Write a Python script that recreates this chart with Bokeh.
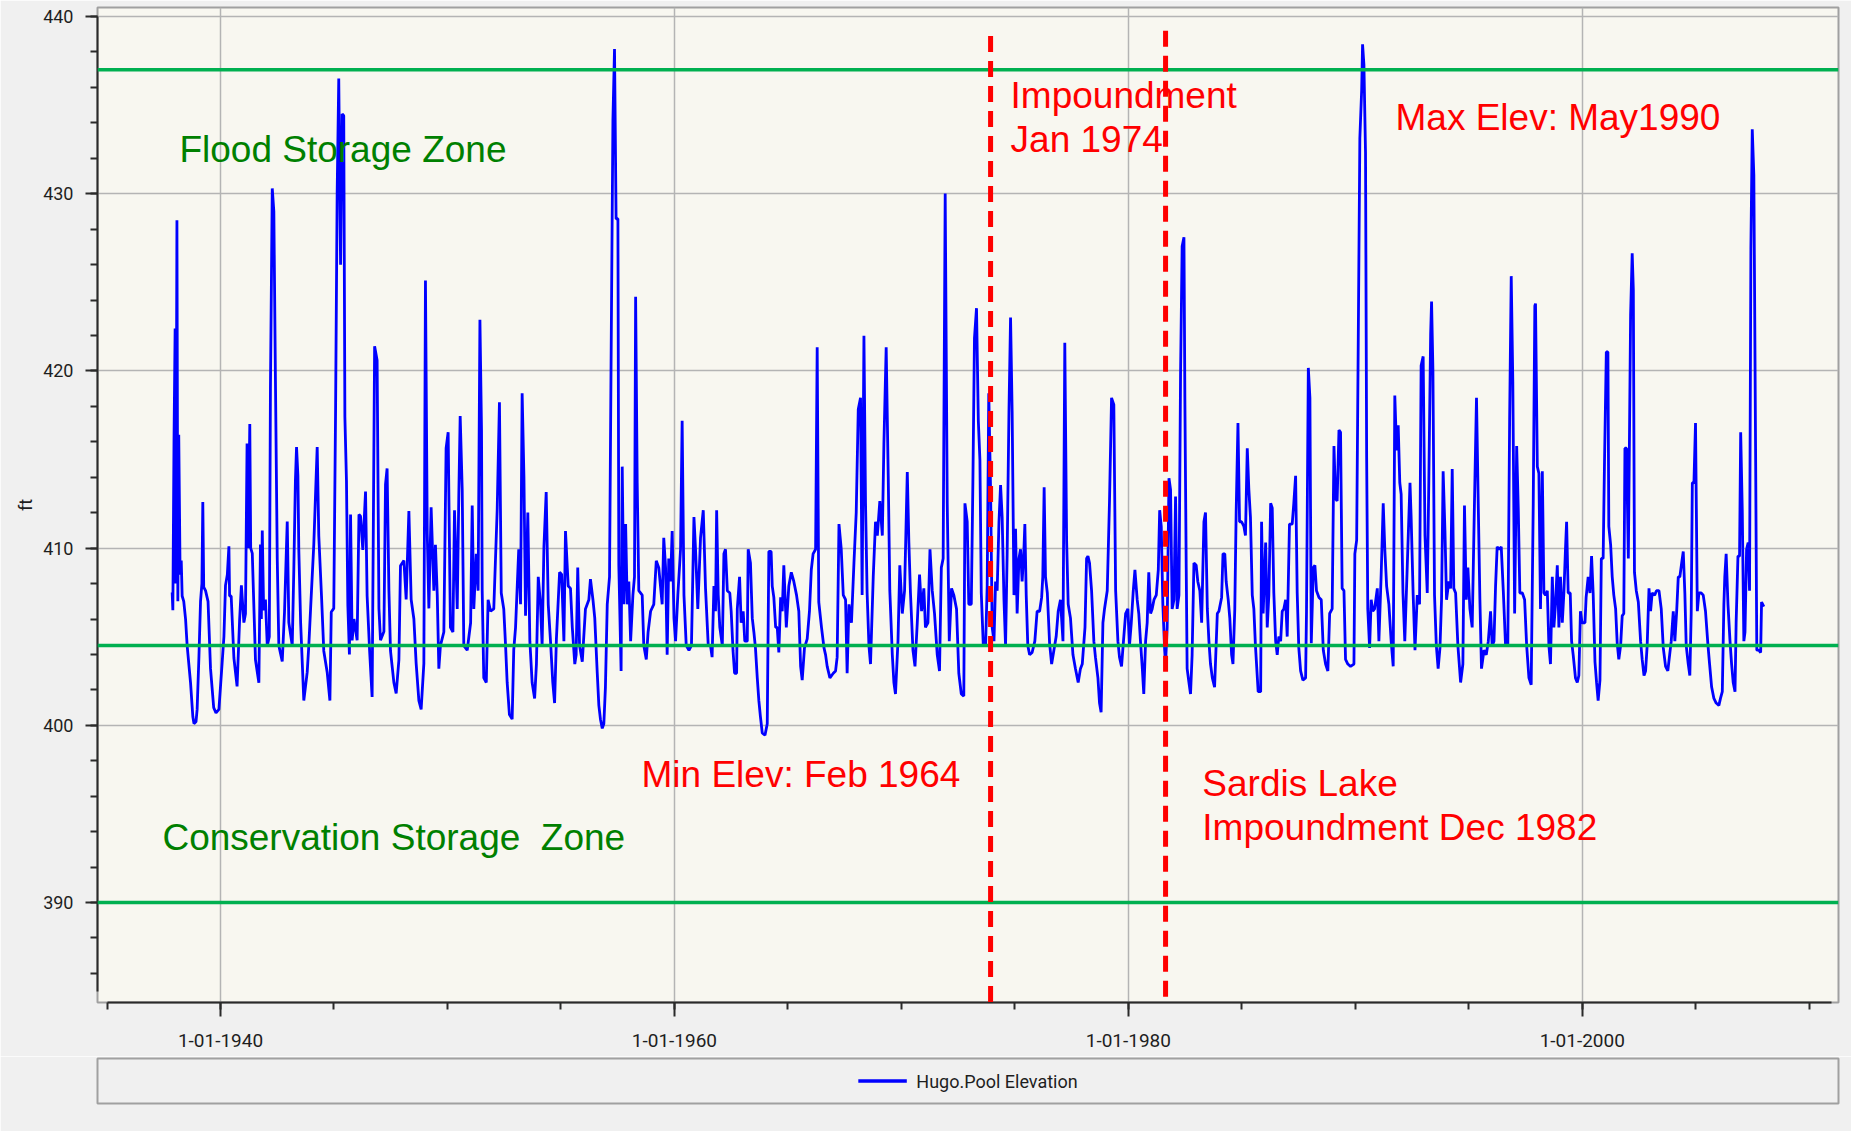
from bokeh.plotting import figure
from bokeh.models import Range1d, FixedTicker, Span, Label, Legend, LegendItem, ColumnDataSource
from bokeh.layouts import column
from bokeh.embed import file_html
from bokeh.resources import INLINE

# ---- Hugo.Pool Elevation (decimal year, ft) ----
pts_1937_1949 = [
    (1937.87, 407.5), (1937.90, 406.5), (1937.95, 416.0), (1938.00, 422.4), (1938.03, 408.0),
    (1938.08, 428.5), (1938.12, 407.0), (1938.16, 416.4), (1938.22, 408.5), (1938.27, 409.3),
    (1938.31, 407.3), (1938.38, 407.0), (1938.46, 406.0), (1938.53, 404.5), (1938.68, 402.4),
    (1938.78, 400.5), (1938.83, 400.1), (1938.92, 400.2), (1938.97, 400.9), (1939.05, 403.9),
    (1939.12, 407.0), (1939.18, 408.0), (1939.22, 412.6), (1939.26, 407.8), (1939.34, 407.6),
    (1939.45, 407.0), (1939.56, 403.2), (1939.70, 401.0), (1939.80, 400.7), (1939.93, 400.9),
    (1940.07, 403.5), (1940.15, 405.0), (1940.22, 407.9), (1940.30, 408.5), (1940.37, 410.1),
    (1940.40, 407.3), (1940.47, 407.3), (1940.59, 403.8), (1940.73, 402.2), (1940.84, 405.9),
    (1940.92, 407.9), (1941.03, 405.8), (1941.10, 406.3), (1941.17, 415.9), (1941.22, 410.0),
    (1941.29, 417.0), (1941.33, 410.0), (1941.40, 409.7), (1941.54, 403.7), (1941.69, 402.4),
    (1941.76, 410.2), (1941.80, 406.0), (1941.84, 411.0), (1941.90, 406.5), (1941.98, 407.1),
    (1942.06, 404.5), (1942.15, 405.0), (1942.20, 419.0), (1942.28, 430.3), (1942.35, 429.0),
    (1942.42, 419.5), (1942.50, 409.4), (1942.57, 404.5), (1942.72, 403.6), (1942.82, 406.4),
    (1942.94, 411.5), (1943.01, 405.8), (1943.16, 404.5), (1943.23, 408.8), (1943.30, 413.8),
    (1943.35, 415.7), (1943.41, 414.1), (1943.45, 409.9), (1943.53, 405.8), (1943.67, 401.4),
    (1943.82, 403.0), (1943.89, 404.5), (1943.97, 406.6), (1944.11, 410.2), (1944.26, 415.7),
    (1944.33, 410.7), (1944.45, 407.3), (1944.55, 404.2), (1944.70, 403.0), (1944.82, 401.4),
    (1944.88, 406.4), (1944.99, 406.6), (1945.07, 417.8), (1945.14, 430.1), (1945.21, 436.5),
    (1945.29, 426.0), (1945.36, 434.5), (1945.43, 434.4), (1945.48, 417.4), (1945.55, 413.8),
    (1945.61, 406.8), (1945.68, 404.0), (1945.73, 411.9), (1945.80, 404.8), (1945.88, 406.0),
    (1946.02, 404.8), (1946.10, 411.9), (1946.17, 411.8), (1946.27, 409.9), (1946.39, 413.2),
    (1946.46, 407.3), (1946.57, 404.2), (1946.68, 401.6), (1946.79, 421.4), (1946.90, 420.6),
    (1946.98, 406.6), (1947.05, 404.8), (1947.20, 405.3), (1947.27, 413.6), (1947.34, 414.5),
    (1947.42, 407.6), (1947.49, 404.2), (1947.64, 402.4), (1947.74, 401.8), (1947.86, 403.7),
    (1947.93, 409.0), (1948.08, 409.3), (1948.18, 407.1), (1948.30, 412.1), (1948.40, 407.1),
    (1948.52, 406.0), (1948.62, 403.5), (1948.74, 401.4), (1948.84, 400.9), (1948.96, 403.5),
    (1949.03, 425.1), (1949.11, 410.8), (1949.18, 406.6), (1949.28, 412.3), (1949.40, 407.6),
]
pts_1949_1961 = [
    (1949.47, 410.19), (1949.55, 407.35), (1949.62, 403.2), (1949.69, 404.5), (1949.84, 405.27),
    (1949.94, 415.64), (1950.03, 416.54), (1950.13, 405.53), (1950.24, 405.27), (1950.31, 412.14),
    (1950.43, 406.57), (1950.50, 413.04), (1950.56, 417.45), (1950.65, 413.3), (1950.72, 404.5),
    (1950.87, 404.24), (1951.02, 405.79), (1951.09, 412.4), (1951.16, 406.57), (1951.27, 409.68),
    (1951.35, 407.6), (1951.43, 422.89), (1951.50, 416.67), (1951.53, 407.6), (1951.60, 402.68),
    (1951.71, 402.42), (1951.79, 407.09), (1951.90, 406.44), (1952.04, 406.57), (1952.19, 412.14),
    (1952.29, 418.23), (1952.37, 407.47), (1952.48, 406.57), (1952.56, 404.5), (1952.63, 402.42),
    (1952.73, 400.61), (1952.85, 400.35), (1952.92, 404.24), (1953.00, 405.53), (1953.14, 409.94),
    (1953.22, 406.83), (1953.29, 418.74), (1953.37, 413.95), (1953.44, 406.18), (1953.54, 412.01),
    (1953.63, 404.75), (1953.73, 402.42), (1953.84, 401.52), (1953.92, 403.46), (1954.00, 408.38),
    (1954.10, 406.83), (1954.17, 404.5), (1954.25, 410.07), (1954.35, 413.17), (1954.44, 406.83),
    (1954.54, 404.75), (1954.64, 402.42), (1954.72, 401.26), (1954.80, 404.88), (1954.94, 408.64),
    (1955.03, 408.51), (1955.13, 404.75), (1955.20, 410.97), (1955.32, 407.86), (1955.42, 407.73),
    (1955.50, 405.53), (1955.61, 403.46), (1955.67, 403.98), (1955.74, 408.9), (1955.82, 404.5),
    (1955.94, 403.59), (1956.08, 406.57), (1956.23, 407.09), (1956.30, 408.25), (1956.41, 407.09),
    (1956.49, 406.05), (1956.60, 402.94), (1956.67, 401.13), (1956.74, 400.35), (1956.82, 399.83),
    (1956.89, 400.09), (1956.96, 402.16), (1957.04, 406.83), (1957.14, 408.38), (1957.21, 420.69),
    (1957.29, 434.16), (1957.36, 438.17), (1957.43, 428.59), (1957.51, 428.59), (1957.55, 409.03),
    (1957.65, 403.07), (1957.70, 414.6), (1957.77, 406.83), (1957.85, 411.36), (1957.92, 406.83),
    (1957.99, 408.12), (1958.07, 404.75), (1958.17, 407.35), (1958.24, 408.38), (1958.29, 424.18),
    (1958.36, 413.69), (1958.43, 407.6), (1958.58, 407.35), (1958.65, 404.5), (1958.76, 403.72),
    (1958.84, 405.27), (1958.95, 406.44), (1959.09, 406.83), (1959.20, 409.29), (1959.31, 408.9),
    (1959.46, 406.83), (1959.53, 410.58), (1959.61, 408.9), (1959.68, 403.98), (1959.75, 409.42),
    (1959.83, 408.12), (1959.90, 410.97), (1959.98, 406.05), (1960.05, 404.75), (1960.15, 407.35),
    (1960.27, 409.94), (1960.34, 417.19), (1960.42, 407.35), (1960.52, 404.5), (1960.64, 404.24),
    (1960.75, 404.5), (1960.86, 411.75), (1960.93, 409.94), (1961.03, 406.57), (1961.15, 410.58),
    (1961.27, 412.14), (1961.37, 407.73), (1961.49, 404.5),
]
pts_1961_1973 = [
    (1961.59, 404.5), (1961.66, 403.85), (1961.74, 407.86), (1961.81, 406.44), (1961.86, 412.14),
    (1961.93, 407.35), (1962.00, 405.53), (1962.11, 404.5), (1962.18, 409.68), (1962.25, 409.94),
    (1962.33, 407.6), (1962.44, 407.47), (1962.50, 406.44), (1962.58, 404.24), (1962.65, 402.94),
    (1962.74, 402.94), (1962.77, 406.57), (1962.87, 408.38), (1962.94, 405.79), (1963.03, 406.44),
    (1963.10, 404.75), (1963.21, 404.75), (1963.25, 409.94), (1963.35, 409.16), (1963.43, 406.05),
    (1963.50, 405.27), (1963.57, 404.37), (1963.65, 402.68), (1963.72, 401.39), (1963.79, 400.48),
    (1963.87, 399.57), (1963.99, 399.44), (1964.09, 400.09), (1964.16, 409.81), (1964.26, 409.81),
    (1964.31, 407.86), (1964.38, 407.22), (1964.46, 405.53), (1964.53, 405.53), (1964.60, 404.11),
    (1964.68, 407.22), (1964.75, 406.44), (1964.82, 409.03), (1964.93, 405.53), (1965.04, 407.86),
    (1965.15, 408.64), (1965.26, 408.12), (1965.38, 407.35), (1965.48, 406.44), (1965.56, 403.33),
    (1965.63, 402.55), (1965.73, 404.37), (1965.85, 404.88), (1965.95, 406.44), (1966.03, 408.77),
    (1966.11, 409.68), (1966.22, 409.94), (1966.29, 421.33), (1966.36, 406.96), (1966.48, 405.53),
    (1966.59, 404.37), (1966.66, 403.98), (1966.73, 403.33), (1966.85, 402.68), (1967.00, 402.94),
    (1967.10, 403.07), (1967.17, 403.85), (1967.25, 411.36), (1967.35, 409.94), (1967.44, 407.35),
    (1967.54, 407.09), (1967.61, 402.94), (1967.69, 406.83), (1967.80, 405.79), (1967.91, 409.16),
    (1968.01, 412.01), (1968.10, 417.84), (1968.20, 418.48), (1968.27, 407.35), (1968.35, 421.98),
    (1968.42, 412.53), (1968.49, 407.47), (1968.57, 404.5), (1968.64, 403.46), (1968.76, 408.38),
    (1968.86, 411.49), (1968.94, 410.71), (1969.05, 412.66), (1969.16, 410.71), (1969.23, 415.89),
    (1969.33, 421.33), (1969.42, 414.08), (1969.49, 407.6), (1969.60, 403.98), (1969.67, 402.42),
    (1969.74, 401.77), (1969.85, 404.75), (1969.93, 409.03), (1970.04, 406.31), (1970.14, 407.6),
    (1970.26, 414.29), (1970.33, 410.32), (1970.40, 407.47), (1970.51, 404.24), (1970.60, 403.33),
    (1970.70, 405.79), (1970.80, 408.51), (1970.89, 406.44), (1970.99, 407.73), (1971.06, 405.53),
    (1971.17, 405.79), (1971.26, 409.94), (1971.36, 407.6), (1971.46, 406.31), (1971.58, 403.98),
    (1971.68, 403.07), (1971.76, 408.9), (1971.84, 409.42), (1971.93, 430.01), (1972.02, 412.53),
    (1972.11, 404.75), (1972.21, 407.73), (1972.31, 407.35), (1972.43, 406.57), (1972.53, 402.94),
    (1972.64, 401.77), (1972.75, 401.65), (1972.80, 412.53), (1972.90, 411.49), (1972.97, 406.83),
    (1973.08, 406.83), (1973.15, 413.69), (1973.22, 421.85), (1973.31, 423.54), (1973.39, 417.19),
    (1973.46, 414.99), (1973.52, 407.47), (1973.61, 404.5),
]
pts_1973_1985 = [
    (1973.71, 404.5), (1973.78, 407.86), (1973.85, 418.74), (1973.93, 413.3), (1974.00, 405.53),
    (1974.08, 404.75), (1974.15, 408.12), (1974.22, 407.6), (1974.30, 411.49), (1974.37, 413.56),
    (1974.44, 411.75), (1974.52, 407.09), (1974.59, 404.5), (1974.66, 409.68), (1974.74, 417.71),
    (1974.81, 423.02), (1974.88, 417.71), (1974.96, 407.35), (1975.03, 411.1), (1975.10, 406.31),
    (1975.18, 409.42), (1975.25, 409.94), (1975.32, 408.12), (1975.40, 409.94), (1975.44, 411.36),
    (1975.50, 407.35), (1975.57, 404.5), (1975.65, 403.98), (1975.76, 404.11), (1975.88, 404.75),
    (1975.98, 406.44), (1976.09, 406.44), (1976.18, 407.22), (1976.23, 408.38), (1976.29, 413.43),
    (1976.35, 408.38), (1976.43, 407.47), (1976.53, 404.63), (1976.62, 403.46), (1976.72, 404.24),
    (1976.82, 405.01), (1976.91, 406.44), (1977.01, 407.09), (1977.12, 404.75), (1977.20, 421.59),
    (1977.28, 410.45), (1977.35, 406.83), (1977.45, 406.05), (1977.56, 403.98), (1977.67, 403.2),
    (1977.79, 402.42), (1977.89, 403.2), (1977.97, 403.46), (1978.09, 405.53), (1978.16, 409.42),
    (1978.22, 409.55), (1978.29, 409.16), (1978.38, 407.6), (1978.48, 404.75), (1978.55, 403.85),
    (1978.66, 402.68), (1978.73, 401.26), (1978.80, 400.74), (1978.88, 405.79), (1978.95, 406.57),
    (1979.07, 407.6), (1979.17, 412.66), (1979.26, 418.48), (1979.36, 418.1), (1979.44, 407.6),
    (1979.54, 404.75), (1979.61, 403.85), (1979.70, 403.33), (1979.77, 404.5), (1979.88, 406.31),
    (1979.98, 406.57), (1980.05, 404.5), (1980.13, 405.79), (1980.21, 407.47), (1980.29, 408.77),
    (1980.39, 407.09), (1980.46, 406.31), (1980.54, 404.63), (1980.61, 403.33), (1980.68, 401.77),
    (1980.76, 404.75), (1980.83, 405.79), (1980.90, 408.64), (1980.98, 406.31), (1981.05, 406.57),
    (1981.13, 407.09), (1981.23, 407.35), (1981.32, 408.77), (1981.38, 412.14), (1981.45, 411.23),
    (1981.52, 406.83), (1981.60, 404.24), (1981.64, 403.46), (1981.71, 405.53), (1981.79, 413.95),
    (1981.86, 413.3), (1981.93, 406.57), (1982.01, 407.09), (1982.08, 412.92), (1982.15, 406.57),
    (1982.23, 407.35), (1982.30, 419.78), (1982.37, 427.03), (1982.45, 427.55), (1982.49, 418.48),
    (1982.55, 408.9), (1982.59, 403.2), (1982.67, 402.42), (1982.74, 401.77), (1982.81, 403.98),
    (1982.89, 409.16), (1982.99, 409.03), (1983.06, 408.12), (1983.15, 407.6), (1983.23, 405.79),
    (1983.33, 411.49), (1983.40, 412.01), (1983.48, 406.57), (1983.55, 404.75), (1983.62, 403.46),
    (1983.70, 402.68), (1983.80, 402.16), (1983.92, 406.31), (1983.99, 406.44), (1984.11, 407.22),
    (1984.17, 409.68), (1984.25, 409.68), (1984.31, 408.12), (1984.40, 407.09), (1984.47, 406.05),
    (1984.55, 403.98), (1984.61, 403.46), (1984.69, 406.57), (1984.75, 412.01), (1984.83, 417.06),
    (1984.90, 411.49), (1984.99, 411.49), (1985.09, 411.23), (1985.16, 410.71), (1985.24, 415.64),
    (1985.31, 413.3), (1985.38, 411.75), (1985.46, 407.35), (1985.53, 406.57), (1985.60, 404.5),
    (1985.72, 401.9),
]
pts_1985_1997 = [
    (1985.83, 401.9), (1985.87, 411.49), (1985.94, 406.31), (1986.05, 410.32), (1986.12, 405.53),
    (1986.19, 407.35), (1986.27, 412.53), (1986.34, 412.27), (1986.41, 407.47), (1986.49, 404.75),
    (1986.56, 403.98), (1986.63, 405.01), (1986.71, 404.75), (1986.78, 406.44), (1986.85, 406.57),
    (1986.93, 407.09), (1987.00, 405.01), (1987.10, 411.36), (1987.22, 411.36), (1987.29, 412.53),
    (1987.37, 414.08), (1987.44, 407.47), (1987.51, 404.37), (1987.59, 403.07), (1987.69, 402.55),
    (1987.81, 402.68), (1987.85, 406.44), (1987.93, 420.17), (1988.00, 418.48), (1988.06, 404.63),
    (1988.15, 408.9), (1988.22, 409.03), (1988.29, 407.6), (1988.40, 407.22), (1988.50, 407.09),
    (1988.59, 404.24), (1988.69, 403.46), (1988.79, 403.07), (1988.87, 406.31), (1988.98, 406.57),
    (1989.06, 415.76), (1989.13, 412.79), (1989.20, 412.66), (1989.28, 416.67), (1989.35, 416.54),
    (1989.42, 407.73), (1989.50, 407.6), (1989.57, 403.72), (1989.67, 403.46), (1989.79, 403.33),
    (1989.94, 403.46), (1989.98, 409.68), (1990.06, 410.45), (1990.13, 421.72), (1990.20, 433.12),
    (1990.28, 435.84), (1990.32, 438.43), (1990.38, 437.27), (1990.45, 432.34), (1990.50, 415.12),
    (1990.55, 406.57), (1990.63, 404.37), (1990.70, 407.09), (1990.77, 406.44), (1990.85, 406.57),
    (1990.97, 407.73), (1991.04, 404.75), (1991.14, 408.51), (1991.23, 412.53), (1991.30, 409.94),
    (1991.38, 407.86), (1991.48, 406.83), (1991.58, 404.75), (1991.67, 403.33), (1991.74, 418.61),
    (1991.82, 415.51), (1991.89, 416.93), (1991.96, 413.69), (1992.02, 413.04), (1992.10, 407.47),
    (1992.18, 404.75), (1992.29, 409.03), (1992.41, 413.69), (1992.46, 411.75), (1992.55, 407.35),
    (1992.63, 404.24), (1992.73, 407.35), (1992.83, 406.83), (1992.90, 420.3), (1992.99, 420.82),
    (1993.07, 410.71), (1993.17, 407.47), (1993.24, 413.82), (1993.32, 422.11), (1993.36, 423.92),
    (1993.42, 420.04), (1993.49, 407.35), (1993.57, 404.5), (1993.65, 403.2), (1993.73, 404.37),
    (1993.80, 407.09), (1993.87, 414.34), (1993.95, 410.97), (1994.02, 407.09), (1994.12, 408.12),
    (1994.20, 407.73), (1994.27, 414.47), (1994.34, 407.73), (1994.42, 407.47), (1994.52, 404.5),
    (1994.64, 402.42), (1994.74, 403.46), (1994.81, 412.4), (1994.89, 407.09), (1994.96, 408.9),
    (1995.05, 406.57), (1995.15, 405.53), (1995.25, 412.53), (1995.34, 418.48), (1995.42, 412.27),
    (1995.49, 407.09), (1995.56, 403.2), (1995.67, 404.24), (1995.77, 403.98), (1995.86, 404.75),
    (1995.96, 406.44), (1996.03, 404.5), (1996.11, 404.75), (1996.18, 407.86), (1996.25, 410.07),
    (1996.36, 409.94), (1996.43, 410.07), (1996.52, 407.6), (1996.62, 404.5), (1996.72, 404.5),
    (1996.80, 417.32), (1996.87, 425.35), (1996.94, 419.39), (1997.02, 406.31), (1997.11, 415.76),
    (1997.18, 412.27), (1997.25, 407.47), (1997.36, 407.47), (1997.46, 407.09), (1997.55, 404.5),
    (1997.65, 402.68), (1997.75, 402.29), (1997.84, 412.53), (1997.91, 423.67),
]
pts_1998_2008 = [
    (1997.94, 423.8), (1998.02, 414.6), (1998.09, 414.21), (1998.16, 406.57), (1998.24, 414.34),
    (1998.31, 407.47), (1998.38, 407.35), (1998.46, 407.6), (1998.53, 404.5), (1998.60, 403.46),
    (1998.68, 408.38), (1998.75, 405.53), (1998.82, 406.83), (1998.90, 409.03), (1998.97, 405.53),
    (1999.04, 408.38), (1999.12, 405.79), (1999.19, 407.47), (1999.26, 409.94), (1999.31, 411.49),
    (1999.38, 407.47), (1999.47, 407.47), (1999.53, 404.75), (1999.60, 403.98), (1999.70, 402.68),
    (1999.78, 402.42), (1999.85, 402.81), (1999.92, 406.44), (1999.99, 405.79), (2000.12, 405.79),
    (2000.17, 407.22), (2000.26, 408.38), (2000.34, 407.47), (2000.41, 409.55), (2000.48, 407.47),
    (2000.56, 403.59), (2000.63, 402.42), (2000.70, 401.39), (2000.78, 402.55), (2000.84, 409.42),
    (2000.92, 409.42), (2000.98, 414.86), (2001.06, 421.07), (2001.13, 421.07), (2001.17, 411.23),
    (2001.25, 410.19), (2001.32, 408.38), (2001.39, 407.35), (2001.47, 406.57), (2001.54, 404.63),
    (2001.61, 403.72), (2001.69, 404.5), (2001.76, 406.18), (2001.83, 406.31), (2001.88, 415.64),
    (2001.95, 415.64), (2002.03, 409.42), (2002.13, 423.15), (2002.20, 426.64), (2002.25, 424.57),
    (2002.30, 408.64), (2002.38, 407.6), (2002.47, 406.96), (2002.57, 404.75), (2002.64, 403.72),
    (2002.72, 402.81), (2002.79, 403.07), (2002.86, 404.5), (2002.94, 407.73), (2003.01, 406.44),
    (2003.08, 407.47), (2003.19, 407.35), (2003.27, 407.6), (2003.38, 407.6), (2003.48, 406.57),
    (2003.57, 404.37), (2003.67, 403.33), (2003.77, 403.07), (2003.85, 403.98), (2003.92, 404.75),
    (2004.01, 406.44), (2004.08, 404.75), (2004.16, 406.44), (2004.23, 408.38), (2004.30, 408.38),
    (2004.38, 409.16), (2004.45, 409.81), (2004.52, 407.47), (2004.58, 404.5), (2004.67, 403.46),
    (2004.74, 402.81), (2004.80, 406.31), (2004.85, 413.69), (2004.92, 413.69), (2004.99, 417.06),
    (2005.07, 406.44), (2005.14, 407.47), (2005.24, 407.47), (2005.33, 407.35), (2005.43, 406.44),
    (2005.54, 404.5), (2005.61, 403.46), (2005.70, 402.16), (2005.80, 401.52), (2005.90, 401.26),
    (2006.02, 401.13), (2006.09, 401.52), (2006.17, 401.9), (2006.24, 406.83), (2006.28, 408.38),
    (2006.34, 409.68), (2006.42, 406.83), (2006.51, 404.75), (2006.58, 403.46), (2006.65, 402.42),
    (2006.73, 401.9), (2006.78, 405.79), (2006.86, 409.55), (2006.93, 409.55), (2006.98, 416.54),
    (2007.05, 412.14), (2007.12, 404.75), (2007.17, 405.27), (2007.24, 409.94), (2007.31, 410.32),
    (2007.37, 407.6), (2007.43, 426.9), (2007.49, 433.64), (2007.56, 431.05), (2007.64, 414.86),
    (2007.69, 404.24), (2007.78, 404.24), (2007.86, 404.11), (2007.90, 406.96), (2008.00, 406.7),
]

all_pts = pts_1937_1949 + pts_1949_1961 + pts_1961_1973 + pts_1973_1985 + pts_1985_1997 + pts_1998_2008
years = [a for a, _ in all_pts]
elev_ft = [b for _, b in all_pts]

# ---- axes / reference values ----
x_major = [1940, 1960, 1980, 2000]
x_major_labels = ["1-01-1940", "1-01-1960", "1-01-1980", "1-01-2000"]
x_minor = list(range(1935, 2011, 5))
y_major = [390, 400, 410, 420, 430, 440]
y_minor = list(range(386, 441, 2))

zone_levels = [437.0, 404.5, 390.0]          # flood top, conservation top, conservation bottom
event_years = [1973.93, 1981.64]             # impoundment lines as drawn
event_tops = [438.9, 439.2]

FONT_AX = "Roboto"
FONT_TXT = "Liberation Sans"

p = figure(width=1851, height=1056,
           x_range=Range1d(1934.58, 2011.29), y_range=Range1d(384.36, 440.51),
           output_backend="svg", toolbar_location=None,
           min_border_left=97, min_border_right=13, min_border_top=7, min_border_bottom=54)

p.background_fill_color = "#f8f7f0"
p.border_fill_color = "#f0f0f0"
p.outline_line_color = "#a0a0a0"
p.outline_line_width = 2

# x axis
xa = p.xaxis[0]
xa.ticker = FixedTicker(ticks=x_major, minor_ticks=x_minor)
xa.major_label_overrides = {t: l for t, l in zip(x_major, x_major_labels)}
xa.bounds = (1935, 2011)
xa.axis_line_color = "#2a2a2a"
xa.axis_line_width = 2
xa.major_tick_out = 14
xa.major_tick_in = 0
xa.minor_tick_out = 7
xa.minor_tick_in = 0
xa.major_tick_line_width = 2
xa.minor_tick_line_width = 2
xa.major_tick_line_color = "#2a2a2a"
xa.minor_tick_line_color = "#2a2a2a"
xa.major_label_standoff = 17
xa.major_label_text_font = FONT_AX
xa.major_label_text_font_size = "19px"
xa.major_label_text_color = "#1e1e1e"

# y axis
ya = p.yaxis[0]
ya.ticker = FixedTicker(ticks=y_major, minor_ticks=y_minor)
ya.bounds = (385, 440)
ya.axis_line_color = "#2a2a2a"
ya.axis_line_width = 2
ya.major_tick_out = 12
ya.major_tick_in = 0
ya.minor_tick_out = 7
ya.minor_tick_in = 0
ya.major_tick_line_width = 2
ya.minor_tick_line_width = 2
ya.major_tick_line_color = "#2a2a2a"
ya.minor_tick_line_color = "#2a2a2a"
ya.major_label_standoff = 12
ya.major_label_text_font = FONT_AX
ya.major_label_text_font_size = "18px"
ya.major_label_text_color = "#1e1e1e"
ya.axis_label = "ft"
ya.axis_label_text_font = FONT_AX
ya.axis_label_text_font_size = "18px"
ya.axis_label_text_font_style = "normal"
ya.axis_label_text_color = "#1e1e1e"
ya.axis_label_standoff = 4

p.xgrid.grid_line_color = "#b4b4b4"
p.xgrid.grid_line_width = 1.5
p.ygrid.grid_line_color = "#b4b4b4"
p.ygrid.grid_line_width = 1.5

src = ColumnDataSource(data=dict(x=years, y=elev_ft))
series = p.line("x", "y", source=src, line_color="#0000ff", line_width=2.8)

for lvl in zone_levels:
    p.add_layout(Span(location=lvl, dimension="width", line_color="#00b050", line_width=3.5))

p.segment(x0=event_years, y0=event_tops, x1=event_years, y1=[384.36] * len(event_years),
          line_color="#ff0000", line_width=5, line_dash="16 9", level="overlay")

labels = [
    ("Flood Storage Zone", 1938.19, 432.49, "#008000"),
    ("Conservation Storage\u00a0 Zone", 1937.44, 393.66, "#008000"),
    ("Impoundment", 1974.81, 435.54, "#ff0000"),
    ("Jan 1974", 1974.81, 433.06, "#ff0000"),
    ("Max Elev: May1990", 1991.77, 434.30, "#ff0000"),
    ("Min Elev: Feb 1964", 1958.55, 397.23, "#ff0000"),
    ("Sardis Lake", 1983.26, 396.71, "#ff0000"),
    ("Impoundment Dec 1982", 1983.26, 394.23, "#ff0000"),
]
for txt, lx, ly, col in labels:
    p.add_layout(Label(x=lx, y=ly, text=txt, text_color=col, text_font=FONT_TXT,
                       text_font_size="37px", text_baseline="alphabetic", text_align="left"))

# ---- legend strip ----
leg = figure(width=1851, height=75, x_range=Range1d(0, 1), y_range=Range1d(0, 1),
             output_backend="svg", toolbar_location=None,
             x_axis_location=None, y_axis_location=None,
             min_border_left=97, min_border_right=13, min_border_top=2, min_border_bottom=28)
leg.background_fill_color = "#f0f0f0"
leg.border_fill_color = "#f0f0f0"
leg.outline_line_color = "#a0a0a0"
leg.outline_line_width = 2
leg.grid.visible = False
# proxy renderer for the legend swatch only (no visible data)
proxy = leg.line(x=[float("nan")], y=[float("nan")], line_color="#0000ff", line_width=3.5)
legend = Legend(items=[LegendItem(label="Hugo.Pool Elevation", renderers=[proxy])],
                location="center", orientation="horizontal",
                border_line_alpha=0, background_fill_alpha=0,
                label_text_font=FONT_AX, label_text_font_size="18px", label_text_color="#1e1e1e",
                glyph_width=49, label_standoff=10, padding=0, margin=0)
leg.add_layout(legend, "center")

layout = column(p, leg)
open("out.html", "w").write(file_html(layout, INLINE))
